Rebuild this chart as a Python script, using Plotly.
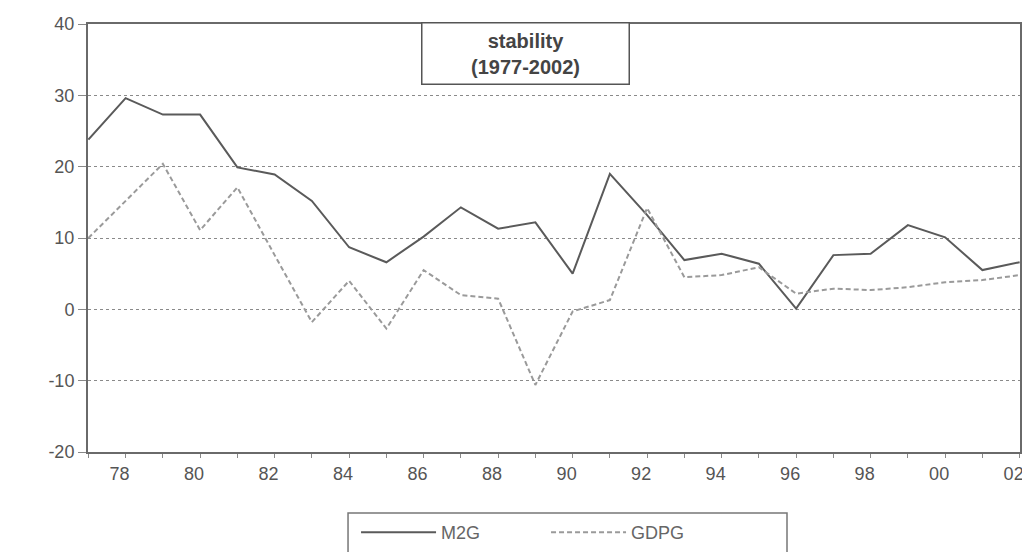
import plotly.graph_objects as go

years = list(range(1977, 2003))
m2g = [23.8, 29.6, 27.3, 27.3, 19.9, 18.9, 15.2, 8.7, 6.6, 10.2, 14.3, 11.3, 12.2, 5.0,
       19.0, 13.2, 6.9, 7.8, 6.4, 0.1, 7.6, 7.8, 11.8, 10.1, 5.5, 6.6]
gdpg = [10.0, 15.2, 20.4, 11.1, 17.1, 7.6, -1.8, 4.0, -2.7, 5.5, 2.0, 1.5, -10.6, -0.3,
        1.3, 14.2, 4.5, 4.8, 5.9, 2.2, 2.9, 2.7, 3.1, 3.8, 4.1, 4.8]
tick_years = list(range(1977, 2003))
tick_text = [("%02d" % (y % 100)) if y % 2 == 0 else "" for y in tick_years]
y_ticks = [-20, -10, 0, 10, 20, 30, 40]
y_text = ["-20", "-10", "0", "10", "20", "30", "40"]

font = "Liberation Sans, Arial, sans-serif"

fig = go.Figure()
fig.add_trace(go.Scatter(x=years, y=m2g, name="M2G", mode="lines",
                         line=dict(color="#5a5a5a", width=2)))
fig.add_trace(go.Scatter(x=years, y=gdpg, name="GDPG", mode="lines",
                         line=dict(color="#9a9a9a", width=2, dash="5px,3px")))

fig.update_layout(
    width=1022, height=544,
    margin=dict(l=80, r=10, t=16, b=100, autoexpand=False),
    paper_bgcolor="white", plot_bgcolor="white",
    font=dict(family=font, color="#555555", size=18),
    showlegend=True,
    legend=dict(orientation="h", x=0.2876, xanchor="left", y=-0.145, yanchor="top",
                borderwidth=0, bgcolor="rgba(0,0,0,0)",
                font=dict(size=18, color="#666666"), itemwidth=75,
                entrywidth=100, entrywidthmode="pixels"),
    shapes=[dict(type="rect", xref="paper", yref="paper", x0=0.279, x1=0.750,
                 y0=-0.1425, y1=-0.35, line=dict(color="#777777", width=1.5), layer="below")],
    annotations=[dict(text="<b>stability</b><br><b>(1977-2002)</b>", xref="paper", yref="paper",
                      x=0.469, y=1.005, xanchor="center", yanchor="top", showarrow=False,
                      font=dict(size=20, color="#444444"), bordercolor="#555555", borderwidth=1.5,
                      bgcolor="white", width=204, height=58, align="center")],
)
fig.update_xaxes(range=[1976.99, 2002.01], tickvals=tick_years, ticktext=tick_text, automargin=False,
                 showgrid=False, zeroline=False, showline=True, linecolor="#6a6a6a", linewidth=2,
                 mirror=True, ticks="outside", ticklen=4, tickcolor="#888888", ticklabelshift=-6)
fig.update_yaxes(range=[-20, 40], tickvals=y_ticks, ticktext=y_text, automargin=False,
                 showgrid=True, gridcolor="#8a8a8a", ticklabelstandoff=0,
                 griddash="dot", gridwidth=1, zeroline=False, showline=True, linecolor="#6a6a6a",
                 linewidth=2, mirror=True, ticks="outside", ticklen=8, tickcolor="#888888")

fig.write_html("out.html")
